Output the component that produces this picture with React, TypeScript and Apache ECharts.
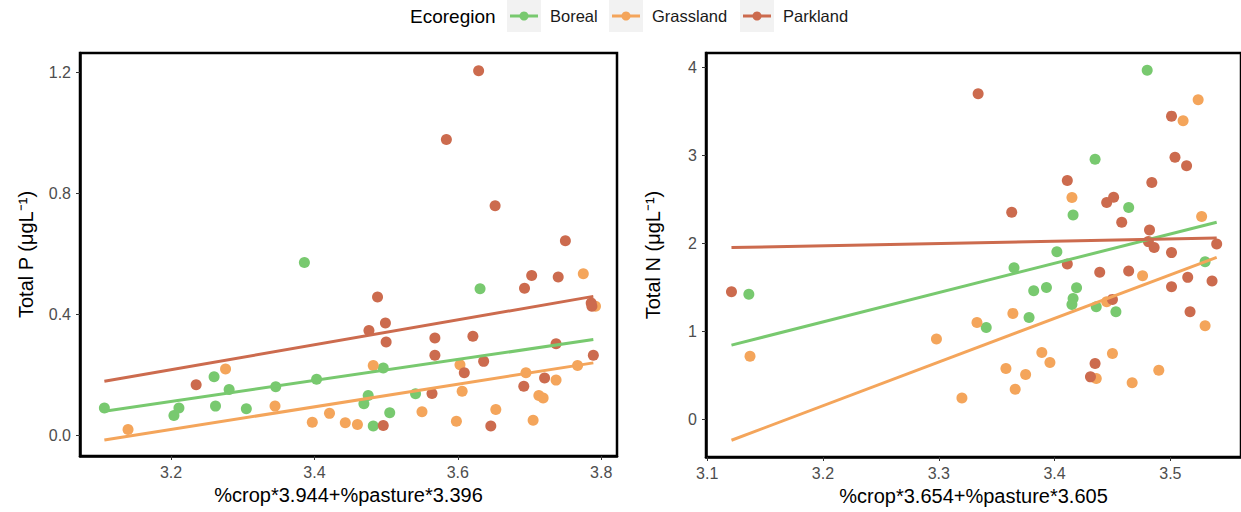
import React, { useEffect, useRef } from "react";
import * as echarts from "echarts";

// ---- Legend / categories ----
const ecoregions = ["Boreal", "Grassland", "Parkland"];
const colors = ["#78C96F", "#F4A55B", "#CC6B4E"];

// ---- Left panel: Total P vs %crop*3.944+%pasture*3.396 ----
const borealP = [
  [3.107, 0.091], [3.204, 0.066], [3.211, 0.091], [3.26, 0.194], [3.262, 0.097],
  [3.281, 0.152], [3.305, 0.088], [3.346, 0.161], [3.386, 0.572], [3.403, 0.186],
  [3.469, 0.105], [3.475, 0.132], [3.482, 0.031], [3.496, 0.223], [3.505, 0.075],
  [3.541, 0.138], [3.631, 0.485],
];
const grasslandP = [
  [3.14, 0.02], [3.276, 0.22], [3.345, 0.097], [3.397, 0.044], [3.421, 0.073],
  [3.443, 0.042], [3.46, 0.036], [3.482, 0.231], [3.55, 0.078], [3.598, 0.047],
  [3.603, 0.234], [3.606, 0.146], [3.653, 0.086], [3.695, 0.207], [3.705, 0.05],
  [3.713, 0.132], [3.719, 0.124], [3.737, 0.183], [3.767, 0.231], [3.775, 0.535],
  [3.792, 0.427],
];
const parklandP = [
  [3.235, 0.168], [3.476, 0.347], [3.488, 0.458], [3.499, 0.372], [3.5, 0.309],
  [3.496, 0.033], [3.564, 0.139], [3.568, 0.265], [3.568, 0.322], [3.584, 0.979],
  [3.609, 0.207], [3.621, 0.328], [3.629, 1.206], [3.636, 0.245], [3.646, 0.031],
  [3.652, 0.76], [3.692, 0.163], [3.693, 0.487], [3.703, 0.529], [3.721, 0.19],
  [3.737, 0.303], [3.74, 0.524], [3.75, 0.644], [3.786, 0.438], [3.787, 0.427],
  [3.789, 0.265],
];
const fitP = [
  [[3.107, 0.08], [3.789, 0.317]],
  [[3.107, -0.015], [3.789, 0.24]],
  [[3.107, 0.179], [3.789, 0.46]],
];
const pXTicks = [3.2, 3.4, 3.6, 3.8];
const pYTicks = [0, 0.4, 0.8, 1.2];

// ---- Right panel: Total N vs %crop*3.654+%pasture*3.605 ----
const borealN = [
  [3.136, 1.422], [3.341, 1.046], [3.365, 1.725], [3.378, 1.16], [3.382, 1.463],
  [3.393, 1.501], [3.402, 1.907], [3.415, 1.308], [3.416, 1.376], [3.416, 2.324],
  [3.419, 1.498], [3.435, 2.957], [3.436, 1.282], [3.453, 1.225], [3.464, 2.408],
  [3.48, 3.966], [3.53, 1.793],
];
const grasslandN = [
  [3.137, 0.72], [3.298, 0.914], [3.32, 0.246], [3.333, 1.103], [3.358, 0.58],
  [3.364, 1.206], [3.366, 0.345], [3.375, 0.512], [3.389, 0.762], [3.396, 0.648],
  [3.415, 2.521], [3.436, 0.466], [3.445, 1.338], [3.45, 0.751], [3.467, 0.417],
  [3.476, 1.634], [3.49, 0.561], [3.511, 3.393], [3.524, 3.632], [3.527, 2.305],
  [3.53, 1.065],
];
const parklandN = [
  [3.121, 1.452], [3.334, 3.701], [3.363, 2.355], [3.411, 2.715], [3.411, 1.767],
  [3.431, 0.485], [3.435, 0.637], [3.439, 1.672], [3.445, 2.464], [3.451, 2.525],
  [3.45, 1.365], [3.458, 2.241], [3.464, 1.687], [3.481, 2.021], [3.482, 2.154],
  [3.484, 2.692], [3.486, 1.953], [3.501, 3.446], [3.501, 1.896], [3.501, 1.509],
  [3.504, 2.98], [3.514, 2.882], [3.515, 1.615], [3.517, 1.225], [3.536, 1.573],
  [3.54, 1.994],
];
const fitN = [
  [[3.121, 0.846], [3.54, 2.241]],
  [[3.121, -0.235], [3.54, 1.843]],
  [[3.121, 1.953], [3.54, 2.063]],
];
const nXTicks = [3.1, 3.2, 3.3, 3.4, 3.5];
const nYTicks = [0, 1, 2, 3, 4];

const FONT = "Liberation Sans, Arial, sans-serif";

export default function App() {
  const ref = useRef<HTMLDivElement>(null);

  useEffect(() => {
    if (!ref.current) return;
    const chart = echarts.init(ref.current, null, { renderer: "svg" });

    const axisCommon = (ticks: number[], digits: number, margin: number) => ({
      type: "value" as const,
      axisLine: { show: true, onZero: false, lineStyle: { color: "#000", width: 2.5 } },
      axisTick: { show: true, length: 4, customValues: ticks, lineStyle: { color: "#333", width: 1 } },
      axisLabel: {
        customValues: ticks,
        color: "#4D4D4D",
        fontSize: 16,
        fontFamily: FONT,
        margin,
        formatter: (v: number) => v.toFixed(digits),
      },
      splitLine: { show: false },
      nameLocation: "middle" as const,
      nameTextStyle: { color: "#000", fontSize: 20, fontFamily: FONT },
    });

    const pointSets = [
      [borealP, grasslandP, parklandP],
      [borealN, grasslandN, parklandN],
    ];
    const fits = [fitP, fitN];

    const series: any[] = [];
    for (let panel = 0; panel < 2; panel++) {
      for (let g = 0; g < 3; g++) {
        series.push({
          type: "scatter",
          name: ecoregions[g],
          xAxisIndex: panel,
          yAxisIndex: panel,
          data: pointSets[panel][g],
          symbolSize: 11,
          itemStyle: { color: colors[g], opacity: 1 },
          z: 2,
        });
      }
      for (let g = 0; g < 3; g++) {
        series.push({
          type: "line",
          name: ecoregions[g] + " fit",
          xAxisIndex: panel,
          yAxisIndex: panel,
          data: fits[panel][g],
          showSymbol: false,
          lineStyle: { color: colors[g], width: 3 },
          z: 3,
        });
      }
    }

    // Custom legend (ggplot style)
    const legendItems: any[] = [
      {
        type: "text",
        x: 410,
        y: 16,
        style: { text: "Ecoregion", fontSize: 19, fontFamily: FONT, fill: "#000", verticalAlign: "middle" },
      },
    ];
    const keyX = [507, 609, 740];
    ecoregions.forEach((name, i) => {
      const x = keyX[i];
      legendItems.push({
        type: "rect",
        shape: { x, y: 0, width: 34, height: 32 },
        style: { fill: "#F2F2F2" },
      });
      legendItems.push({
        type: "line",
        shape: { x1: x + 3, y1: 16, x2: x + 31, y2: 16 },
        style: { stroke: colors[i], lineWidth: 3 },
      });
      legendItems.push({
        type: "circle",
        shape: { cx: x + 17, cy: 16, r: 4.5 },
        style: { fill: colors[i] },
      });
      legendItems.push({
        type: "text",
        x: x + 43,
        y: 16,
        style: {
          text: name,
          fontSize: 16.5,
          fontFamily: FONT,
          fill: "#1A1A1A",
          verticalAlign: "middle",
        },
      });
    });

    chart.setOption({
      animation: false,
      backgroundColor: "#fff",
      grid: [
        { left: 80, top: 53, width: 537, height: 403, show: true, borderColor: "#000", borderWidth: 2.5, backgroundColor: "#fff" },
        { left: 706, top: 53, width: 535, height: 404, show: true, borderColor: "#000", borderWidth: 2.5, backgroundColor: "#fff" },
      ],
      xAxis: [
        {
          ...axisCommon(pXTicks, 1, 8),
          gridIndex: 0,
          min: 3.073,
          max: 3.822,
          name: "%crop*3.944+%pasture*3.396",
          nameGap: 29,
        },
        {
          ...axisCommon(nXTicks, 1, 8),
          gridIndex: 1,
          min: 3.099,
          max: 3.561,
          name: "%crop*3.654+%pasture*3.605",
          nameGap: 29,
        },
      ],
      yAxis: [
        {
          ...axisCommon(pYTicks, 1, 9),
          gridIndex: 0,
          min: -0.068,
          max: 1.265,
          name: "Total P (μgL⁻¹)",
          nameGap: 44,
        },
        {
          ...axisCommon(nYTicks, 0, 9),
          gridIndex: 1,
          min: -0.425,
          max: 4.163,
          name: "Total N (μgL⁻¹)",
          nameGap: 43,
        },
      ],
      graphic: legendItems,
      series,
    });

    return () => chart.dispose();
  }, []);

  return (
    <div
      ref={ref}
      style={{ position: "fixed", left: 0, top: 0, width: 1241, height: 512 }}
    />
  );
}
